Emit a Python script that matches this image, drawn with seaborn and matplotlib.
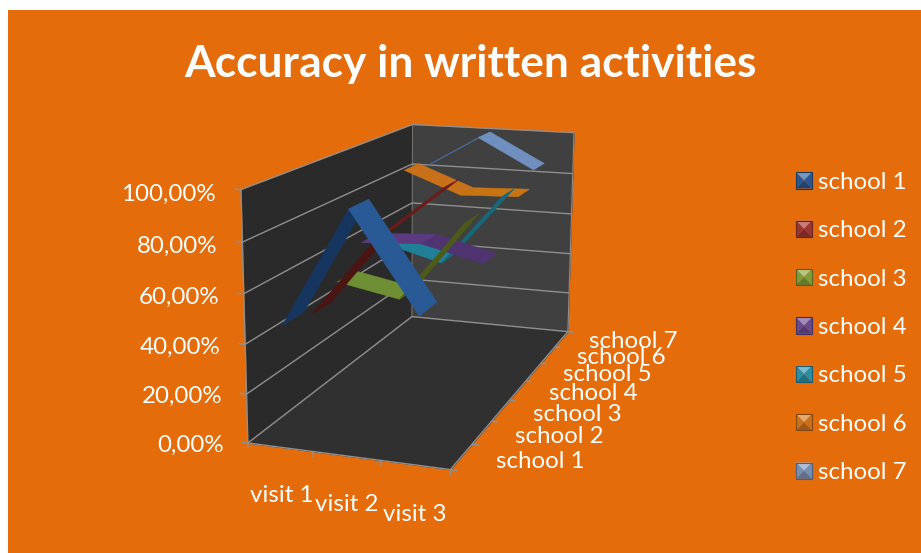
import numpy as np
import matplotlib
matplotlib.use("Agg")
import matplotlib.pyplot as plt
import seaborn as sns
from matplotlib.legend_handler import HandlerBase
from matplotlib.patches import Patch, Polygon, Rectangle
from mpl_toolkits.mplot3d import proj3d
from mpl_toolkits.mplot3d.art3d import Poly3DCollection

# ---- chart data -------------------------------------------------------------
title = "Accuracy in written activities"
visits = ["visit 1", "visit 2", "visit 3"]
schools = ["school 1", "school 2", "school 3", "school 4",
           "school 5", "school 6", "school 7"]
school_1 = [0.48, 0.95, 0.57]
school_2 = [0.45, 0.78, 1.00]
school_3 = [0.52, 0.47, 0.81]
school_4 = [0.63, 0.645, 0.58]
school_5 = [0.57, 0.50, 0.82]
school_6 = [0.86, 0.76, 0.77]
school_7 = [0.83, 0.99, 0.85]
series = [school_1, school_2, school_3, school_4, school_5, school_6, school_7]
percent_ticks = [0.0, 0.2, 0.4, 0.6, 0.8, 1.0]
percent_labels = ["0,00%", "20,00%", "40,00%", "60,00%", "80,00%", "100,00%"]

# ---- colours ----------------------------------------------------------------
ORANGE = "#E46C0A"
legend_colors = ["#2f5f9e", "#a83a38", "#8aa83f", "#6f4f9a",
                 "#2f9ab5", "#d97a20", "#7f9cc8"]
rising_faces = ["#17365f", "#4a1512", "#6f8f34", "#5b3a80",
                "#1f8097", "#c9701a", "#4a6a96"]
falling_faces = ["#2a5a96", "#6b1c1a", "#4d5a1a", "#503472",
                 "#17687b", "#c87414", "#6f8fbf"]
LEFT_WALL, BACK_WALL, FLOOR = "#2a2a2a", "#404040", "#303030"
RULE = "#8f8f8f"

sns.set_theme(style="white", rc={"figure.facecolor": "white"})
plt.rcParams["font.family"] = ["Lato", "DejaVu Sans"]
FS = 17.4

fig = plt.figure(figsize=(9.21, 5.53), dpi=100)
W, H = 921, 553
fig.add_artist(Rectangle((8 / W, 0), 1 - 8 / W, 1 - 10 / H,
                         transform=fig.transFigure, color=ORANGE, lw=0, zorder=-5))

# Perspective camera for the chart box
scale, cx, cy = 2804.229, 428.527, 271.082
side = 500.0
ax = fig.add_axes([(cx - side / 2) / W, (H - cy - side / 2) / H, side / W, side / H],
                  projection="3d", computed_zorder=False)
ax.patch.set_visible(False)
ax.set_axis_off()
ax.set_proj_type("persp", focal_length=float(np.exp(-0.7141)))
ax.view_init(elev=13.7359, azim=-71.5089, roll=-0.3226)
ax.set_box_aspect((float(np.exp(-0.1904)), float(np.exp(0.6602)), 1))
n_v, n_s = len(visits), len(schools)
ax.set_xlim(0, n_v, view_margin=0)
ax.set_ylim(0, n_s, view_margin=0)
ax.set_zlim(0, 1, view_margin=0)

# Size and centre the axes so one projected unit spans the wanted number of pixels
p = ax.transData.transform([(0, 0), (0.01, 0.01)])
side *= scale * 0.01 / (p[1, 0] - p[0, 0])
ax.set_position([0, 0, side / W, side / H])
p = ax.transData.transform([(0, 0)])[0]
ax.set_position([(cx - p[0]) / W, (H - cy - p[1]) / H, side / W, side / H])


def face(corners, color, z):
    ax.add_collection3d(Poly3DCollection([corners], facecolors=color,
                                         edgecolors=color, linewidths=0.3, zorder=z))


face([(0, 0, 0), (0, n_s, 0), (0, n_s, 1), (0, 0, 1)], LEFT_WALL, 1)
face([(0, n_s, 0), (n_v, n_s, 0), (n_v, n_s, 1), (0, n_s, 1)], BACK_WALL, 1)
face([(0, 0, 0), (n_v, 0, 0), (n_v, n_s, 0), (0, n_s, 0)], FLOOR, 1)


def rule(xs, ys, zs, lw=1.0):
    ax.plot(xs, ys, zs, color=RULE, lw=lw, zorder=2, solid_capstyle="butt")


# Horizontal gridlines running round both walls, with ticks on the vertical axis
for t in percent_ticks:
    rule([0, 0, n_v], [0, n_s, n_s], [t, t, t])
    rule([-0.1, 0], [0, 0], [t, t], lw=1.2)
rule([0, 0], [0, 0], [0, 1])
rule([0, 0], [n_s, n_s], [0, 1], lw=0.5)
rule([n_v, n_v], [n_s, n_s], [0, 1], lw=0.8)
rule([0, n_v, n_v], [0, 0, n_s], [0, 0, 0])
for i in range(n_v + 1):
    rule([i, i], [0, 0], [0, -0.022], lw=1.2)
for j in range(n_s + 1):
    rule([n_v, n_v + 0.1], [j, j], [0, 0], lw=1.2)

# One ribbon per school, nearest school painted last
half_depth = 0.375
for s in reversed(range(n_s)):
    yc = s + 0.5
    for k in range(n_v - 1):
        z0, z1 = series[s][k], series[s][k + 1]
        color = rising_faces[s] if k == 0 else falling_faces[s]
        quad = [(k + 0.5, yc - half_depth, z0), (k + 1.5, yc - half_depth, z1),
                (k + 1.5, yc + half_depth, z1), (k + 0.5, yc + half_depth, z0)]
        face(quad, color, 10 + 2 * (n_s - s) + k)


def axis_label(x, y, z, label, **kw):
    """Place a flat label at the projected position of a chart-box point."""
    px, py, _ = proj3d.proj_transform(x, y, z, ax.get_proj())
    ax.text2D(px, py, label, transform=ax.transData, color="white", fontsize=FS,
              va="center", **kw)


for t, label in zip(percent_ticks, percent_labels):
    axis_label(-0.38, 0, t - 0.023, label, ha="right")
for i, label in enumerate(visits):
    axis_label(i + 0.5, 0, -0.198, label, ha="center")
for j, label in enumerate(schools):
    axis_label(n_v + 0.5, j + 0.5, 0, label, ha="left")

fig.text(470.5 / W, 1 - 77 / H, title, color="white", fontsize=31.9, fontweight="bold",
         ha="center", va="baseline")


class BevelHandler(HandlerBase):
    """Legend key drawn as a small bevelled square."""

    def create_artists(self, legend, orig_handle, xdescent, ydescent,
                       width, height, fontsize, trans):
        base = np.array(matplotlib.colors.to_rgb(orig_handle.get_facecolor()))
        x0, y0 = -xdescent, -ydescent
        x1, y1 = x0 + width, y0 + height
        mx, my = (x0 + x1) / 2, (y0 + y1) / 2
        top = base + (1 - base) * 0.35
        bottom = base * 0.72
        side_tone = base * 0.92
        tris = [([(x0, y1), (x1, y1), (mx, my)], top),
                ([(x0, y0), (x1, y0), (mx, my)], bottom),
                ([(x0, y0), (x0, y1), (mx, my)], side_tone),
                ([(x1, y0), (x1, y1), (mx, my)], side_tone)]
        parts = [Polygon(pts, closed=True, facecolor=c, edgecolor="none", transform=trans)
                 for pts, c in tris]
        parts.append(Rectangle((x0, y0), width, height, facecolor="none",
                               edgecolor=base * 0.6, lw=0.8, transform=trans))
        return parts


fs_px = FS * 100 / 72
handles = [Patch(facecolor=c, label=n) for c, n in zip(legend_colors, schools)]
fig.legend(handles=handles, handler_map={Patch: BevelHandler()}, frameon=False,
           loc="center left", bbox_to_anchor=(796 / W, 1 - 327.5 / H), borderpad=0,
           borderaxespad=0, fontsize=FS, labelcolor="white",
           handlelength=16 / fs_px, handleheight=16 / fs_px,
           handletextpad=6 / fs_px, labelspacing=(48.9 - fs_px * 0.89) / fs_px)

fig.savefig("out.png", dpi=100)
